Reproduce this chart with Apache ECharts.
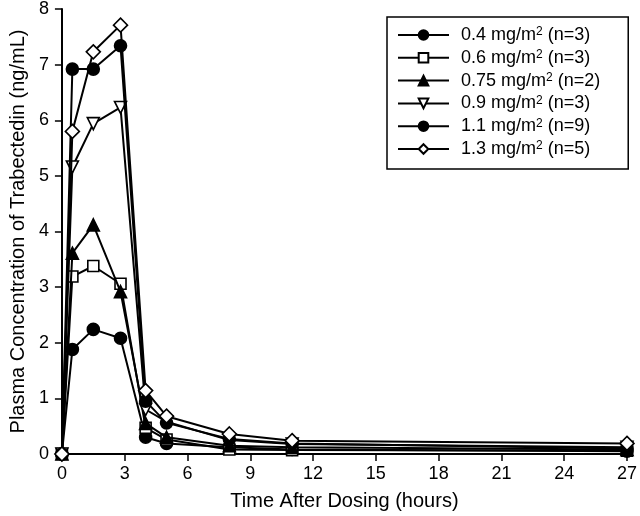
<!DOCTYPE html>
<html><head><meta charset="utf-8">
<script src="https://cdn.jsdelivr.net/npm/echarts@6/dist/echarts.min.js"></script>
<style>html,body{margin:0;padding:0;background:#fff}#c{width:640px;height:516px}</style>
</head><body><div id="c"></div>
<script>
var times = [0, 0.5, 1.5, 2.8, 4, 5, 8, 11, 27];
var s04  = [0, 1.88, 2.24, 2.08, 0.30, 0.19, 0.12, 0.08, 0.05];
var s06  = [0, 3.19, 3.38, 3.06, 0.47, 0.26, 0.08, 0.07, 0.06];
var s075 = [0, 3.61, 4.12, 2.92, 0.55, 0.30, 0.15, 0.12, 0.08];
var s09  = [0, 5.16, 5.94, 6.23, 0.80, 0.58, 0.25, 0.18, 0.12];
var s11  = [0, 6.92, 6.92, 7.34, 0.95, 0.56, 0.27, 0.19, 0.10];
var s13  = [0, 5.80, 7.23, 7.71, 1.14, 0.68, 0.36, 0.24, 0.19];
var doses = ['0.4', '0.6', '0.75', '0.9', '1.1', '1.3'];
var ns = ['3', '3', '2', '3', '9', '5'];
var seriesData = [s04, s06, s075, s09, s11, s13];
var symbols = ['circle', 'rect', 'triangle', 'triangle', 'circle', 'diamond'];
var filled = [true, false, true, false, true, false];
var rotates = [0, 0, 0, 180, 0, 0];
var sizes = [12, 11, 12, 12, 12, 14];

var font = 'Liberation Sans, Arial, sans-serif';
var names = doses.map(function(d, i){ return d + ' mg/m2 (n=' + ns[i] + ')'; });
var series = seriesData.map(function(arr, i){
  return {
    name: names[i], type: 'line',
    data: times.map(function(t, j){ return [t, arr[j]]; }),
    symbol: symbols[i], symbolSize: sizes[i], symbolRotate: rotates[i],
    showAllSymbol: true,
    lineStyle: {color: '#000', width: 2},
    itemStyle: {color: filled[i] ? '#000' : '#fff', borderColor: '#000', borderWidth: 1.6},
    z: 2 + i
  };
});
var chart = echarts.init(document.getElementById('c'));
chart.setOption({
  animation: false,
  backgroundColor: '#fff',
  grid: {left: 57, right: 8, top: 7, bottom: 62},
  xAxis: {
    type: 'value', min: 0, max: 27, interval: 3,
    name: 'Time After Dosing (hours)', nameLocation: 'middle', nameGap: 37,
    nameTextStyle: {fontFamily: font, fontSize: 20, color: '#000'},
    axisLine: {lineStyle: {color: '#000', width: 2}},
    axisTick: {length: 7, lineStyle: {color: '#000', width: 1.5}},
    axisLabel: {fontFamily: font, fontSize: 18, color: '#000', margin: 11},
    splitLine: {show: false}
  },
  yAxis: {
    type: 'value', min: 0, max: 8, interval: 1,
    name: 'Plasma Concentration of Trabectedin (ng/mL)', nameLocation: 'middle', nameGap: 33,
    nameTextStyle: {fontFamily: font, fontSize: 20, color: '#000'},
    axisLine: {show: true, lineStyle: {color: '#000', width: 2}},
    axisTick: {show: true, length: 7, lineStyle: {color: '#000', width: 1.5}},
    axisLabel: {fontFamily: font, fontSize: 18, color: '#000', margin: 13},
    splitLine: {show: false}
  },
  legend: {
    orient: 'vertical', left: 387, top: 17,
    padding: [9, 28, 9, 10],
    borderColor: '#000', borderWidth: 1.5,
    backgroundColor: '#fff',
    itemWidth: 51, itemHeight: 12, itemGap: 2.8,
    textStyle: {fontFamily: font, fontSize: 18, color: '#000',
      rich: {t0: {fontFamily: font, fontSize: 18, color: '#000', padding: [0, 0, 0, 7], lineHeight: 18},
             t: {fontFamily: font, fontSize: 18, color: '#000', lineHeight: 18},
             s: {fontFamily: font, fontSize: 12, color: '#000', verticalAlign: 'top', lineHeight: 18, padding: [0, 0, 8, 0]}}},
    formatter: function(name){
      var parts = name.split('m2');
      return '{t0|' + parts[0] + 'm}{s|2}{t|' + parts[1] + '}';
    },
    data: names
  },
  series: series
});
</script></body></html>
